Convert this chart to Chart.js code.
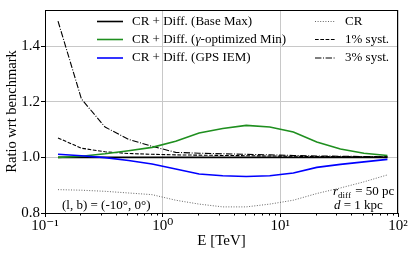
<!DOCTYPE html>
<html>
<head>
<meta charset="utf-8">
<script src="https://cdn.jsdelivr.net/npm/chart.js@4.4.0/dist/chart.umd.min.js"></script>
<style>
  html, body { margin: 0; padding: 0; background: #fff; }
  #wrap { width: 415px; height: 254px; }
</style>
</head>
<body>
<div id="wrap"><canvas id="chart"></canvas></div>
<script>
// Data
const energy = [0.129, 0.204, 0.324, 0.513, 0.813, 1.29, 2.04, 3.24, 5.13, 8.13, 12.9, 20.4, 32.4, 51.3, 81.3];
const baseMax = [1.0, 1.0, 1.0, 1.0, 1.0, 1.0, 1.0, 1.0, 1.0, 1.0, 1.0, 1.0, 1.0, 1.0, 1.0];
const gammaMin = [1.0, 1.004, 1.013, 1.024, 1.036, 1.058, 1.088, 1.104, 1.115, 1.109, 1.091, 1.055, 1.030, 1.015, 1.007];
const gpsIem = [1.011, 1.006, 0.999, 0.989, 0.976, 0.958, 0.940, 0.934, 0.931, 0.934, 0.944, 0.964, 0.975, 0.984, 0.993];
const crOnly = [0.884, 0.882, 0.878, 0.872, 0.866, 0.846, 0.832, 0.822, 0.822, 0.832, 0.846, 0.870, 0.890, 0.912, 0.937];
const syst1 = [1.070, 1.033, 1.020, 1.014, 1.011, 1.009, 1.008, 1.007, 1.006, 1.005, 1.004, 1.003, 1.003, 1.002, 1.002];
const syst3 = [1.490, 1.210, 1.109, 1.065, 1.040, 1.018, 1.015, 1.013, 1.011, 1.009, 1.007, 1.005, 1.004, 1.003, 1.002];

const xMajor = [0.1, 1, 10, 100];
const xTickLabels = ['10\u207B\u00B9', '10\u2070', '10\u00B9', '10\u00B2'];
const yTicks = [0.8, 1.0, 1.2, 1.4];
const yTickLabels = ['0.8', '1.0', '1.2', '1.4'];

const SERIF = "'Liberation Serif', 'DejaVu Serif', serif";
const GREEN = '#1f8f1f';
const BLUE = '#0000ff';

const styles = {
  dashed: [3.7, 1.6],
  dashDot: [6.4, 1.6, 1, 1.6],
  dotted: [1, 1.6]
};

function pts(arr) {
  return energy.map((e, i) => ({ x: e, y: arr[i] }));
}

// frame, minor ticks, legends and annotations
const decorations = {
  id: 'decorations',
  afterDraw(chart) {
    const ctx = chart.ctx;
    const a = chart.chartArea;
    const xs = chart.scales.x;
    ctx.save();

    // frame
    ctx.strokeStyle = '#000';
    ctx.lineWidth = 1;
    ctx.setLineDash([]);
    ctx.strokeRect(a.left + 0.5, a.top + 0.5, a.right - a.left - 1, a.bottom - a.top);

    // minor ticks on the log axis
    for (let d = 0.1; d < 100; d *= 10) {
      for (let m = 2; m <= 9; m++) {
        const px = Math.round(xs.getPixelForValue(d * m)) + 0.5;
        ctx.beginPath();
        ctx.moveTo(px, a.bottom);
        ctx.lineTo(px, a.bottom + 2.5);
        ctx.stroke();
      }
    }

    // legends
    const rows = [21.5, 39.5, 58];
    const left = [
      { color: '#000', dash: [], w: 1.6, parts: [['CR + Diff. (Base Max)', '']] },
      { color: GREEN, dash: [], w: 1.6, parts: [['CR + Diff. (', ''], ['\u03B3', 'italic '], ['-optimized Min)', '']] },
      { color: BLUE, dash: [], w: 1.6, parts: [['CR + Diff. (GPS IEM)', '']] }
    ];
    const right = [
      { color: '#555', dash: styles.dotted, w: 0.9, parts: [['CR', '']] },
      { color: '#000', dash: styles.dashed, w: 1.1, parts: [['1% syst.', '']] },
      { color: '#000', dash: styles.dashDot, w: 1.1, parts: [['3% syst.', '']] }
    ];
    function drawLegend(items, x0, x1, tx) {
      items.forEach((it, i) => {
        const y = rows[i];
        ctx.strokeStyle = it.color;
        ctx.lineWidth = it.w;
        ctx.setLineDash(it.dash);
        ctx.beginPath();
        ctx.moveTo(x0, y);
        ctx.lineTo(x1, y);
        ctx.stroke();
        ctx.setLineDash([]);
        let x = tx;
        ctx.fillStyle = '#000';
        ctx.textBaseline = 'middle';
        ctx.textAlign = 'left';
        it.parts.forEach(p => {
          ctx.font = p[1] + '13px ' + SERIF;
          ctx.fillText(p[0], x, y);
          x += ctx.measureText(p[0]).width;
        });
      });
    }
    drawLegend(left, 97, 123, 132);
    drawLegend(right, 315, 335, 345);

    // annotations
    ctx.fillStyle = '#000';
    ctx.textBaseline = 'alphabetic';
    ctx.font = '13px ' + SERIF;
    ctx.fillText('(l, b) = (-10\u00B0, 0\u00B0)', 62, 209);

    let x = 333;
    ctx.font = 'italic 13px ' + SERIF;
    ctx.fillText('r', x, 195);
    x += ctx.measureText('r').width;
    ctx.font = '9px ' + SERIF;
    ctx.fillText('diff', x, 198);
    x += ctx.measureText('diff').width + 1;
    ctx.font = '13px ' + SERIF;
    ctx.fillText(' = 50 pc', x, 195);

    x = 334;
    ctx.font = 'italic 13px ' + SERIF;
    ctx.fillText('d', x, 209);
    x += ctx.measureText('d').width;
    ctx.font = '13px ' + SERIF;
    ctx.fillText(' = 1 kpc', x, 209);

    ctx.restore();
  }
};

new Chart(document.getElementById('chart'), {
  type: 'line',
  data: {
    datasets: [
      { label: 'CR', data: pts(crOnly), borderColor: '#555', borderWidth: 0.9, borderDash: styles.dotted, order: 7 },
      { label: '3% syst.', data: pts(syst3), borderColor: '#000', borderWidth: 1.1, borderDash: styles.dashDot, order: 6 },
      { label: '1% syst.', data: pts(syst1), borderColor: '#000', borderWidth: 1.1, borderDash: styles.dashed, order: 5 },
      { label: 'CR + Diff. (Base Max)', data: pts(baseMax), borderColor: '#000', borderWidth: 1.6, order: 3 },
      { label: 'CR + Diff. (gamma-optimized Min)', data: pts(gammaMin), borderColor: GREEN, borderWidth: 1.6, order: 2 },
      { label: 'CR + Diff. (GPS IEM)', data: pts(gpsIem), borderColor: BLUE, borderWidth: 1.6, order: 1 }
    ]
  },
  options: {
    responsive: true,
    maintainAspectRatio: false,
    animation: false,
    devicePixelRatio: 1,
    elements: { point: { radius: 0 }, line: { tension: 0, fill: false } },
    layout: { padding: { top: 5, right: 17, left: 0, bottom: 0 } },
    plugins: { legend: { display: false }, tooltip: { enabled: false } },
    scales: {
      x: {
        type: 'logarithmic',
        min: 0.1,
        max: 100,
        afterBuildTicks: s => { s.ticks = xMajor.map(v => ({ value: v, major: true })); },
        afterFit: s => { s.height = 41; },
        ticks: {
          autoSkip: false,
          maxRotation: 0,
          padding: 0,
          color: '#000',
          font: { family: SERIF, size: 15 },
          callback: v => xTickLabels[xMajor.indexOf(v)]
        },
        grid: { color: '#c8c8c8', lineWidth: 1, tickColor: '#000', tickLength: 4 },
        border: { display: true, color: '#000', width: 1 },
        title: { display: true, text: 'E [TeV]', color: '#000', font: { family: SERIF, size: 15 }, padding: { top: 0, bottom: 4 } }
      },
      y: {
        min: 0.8,
        max: 1.53,
        afterBuildTicks: s => { s.ticks = yTicks.map(v => ({ value: v })); },
        afterFit: s => { s.width = 45; },
        ticks: {
          padding: 1,
          color: '#000',
          font: { family: SERIF, size: 15 },
          callback: (v, i) => yTickLabels[i]
        },
        grid: { color: '#c8c8c8', lineWidth: 1, tickColor: '#000', tickLength: 4 },
        border: { display: true, color: '#000', width: 1 },
        title: { display: true, text: 'Ratio wrt benchmark', color: '#000', font: { family: SERIF, size: 14.5 }, padding: { top: 3, bottom: 0 } }
      }
    }
  },
  plugins: [decorations]
});
</script>
</body>
</html>
